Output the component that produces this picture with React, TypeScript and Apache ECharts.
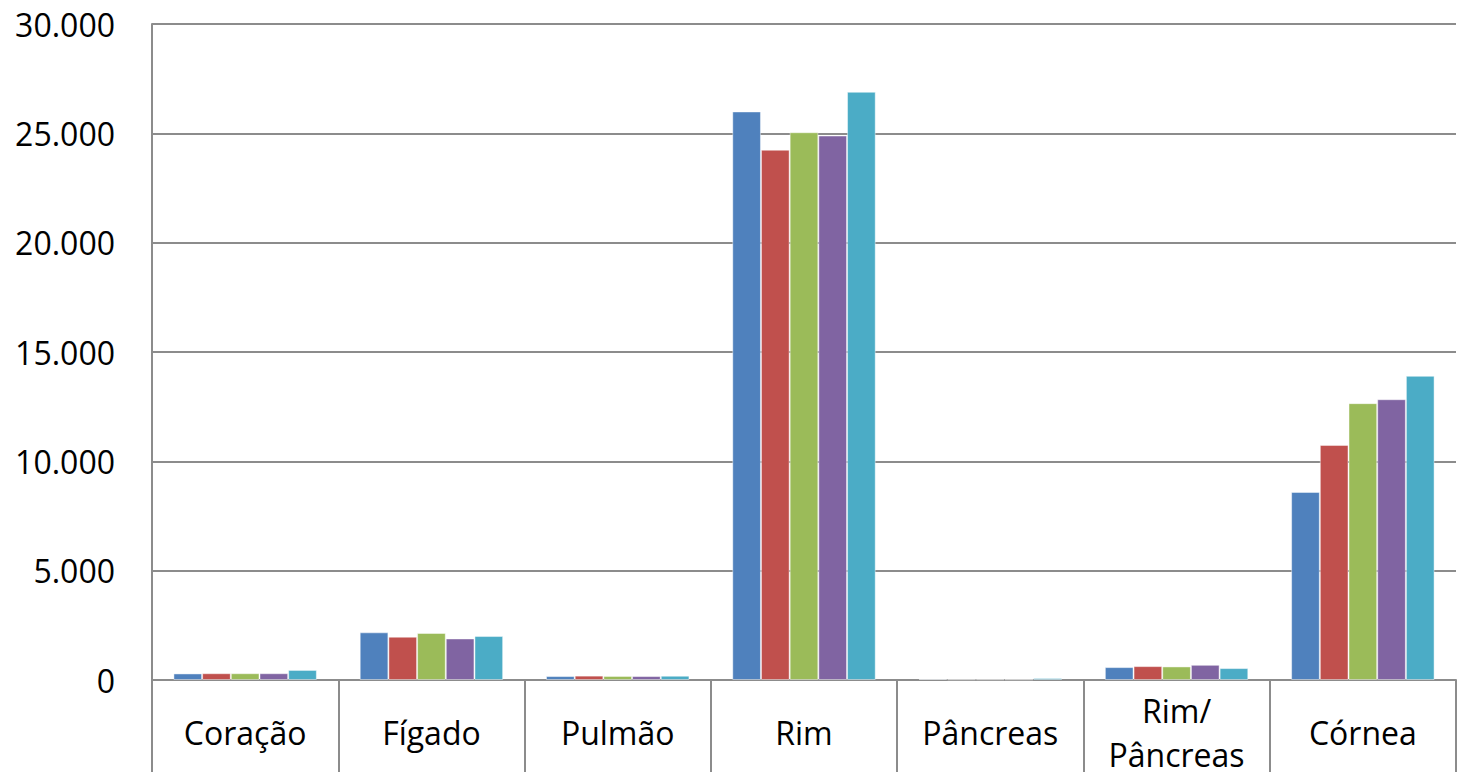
import React, { useEffect, useRef } from "react";
import * as echarts from "echarts";

// Organ categories along the x axis
const categories = [
  "Coração",
  "Fígado",
  "Pulmão",
  "Rim",
  "Pâncreas",
  "Rim/\nPâncreas",
  "Córnea",
];

// One array per series, one value per organ
const serie1 = [300, 2180, 180, 26000, 50, 590, 8600];
const serie2 = [310, 1980, 200, 24250, 30, 635, 10750];
const serie3 = [310, 2150, 185, 25050, 30, 620, 12660];
const serie4 = [310, 1900, 180, 24900, 30, 695, 12840];
const serie5 = [460, 2010, 195, 26900, 90, 545, 13910];

const seriesNames = ["Série 1", "Série 2", "Série 3", "Série 4", "Série 5"];
const seriesValues = [serie1, serie2, serie3, serie4, serie5];
const colors = ["#4F81BD", "#C0504D", "#9BBB59", "#8064A2", "#4BACC6"];

// Y axis range and step
const yMin = 0;
const yMax = 30000;
const yStep = 5000;

const formatThousands = (v: number) =>
  String(Math.round(v)).replace(/\B(?=(\d{3})+(?!\d))/g, ".");

const FONT = "'Open Sans', 'Noto Sans', sans-serif";
const GRID_GRAY = "#8c8c8c";

export default function App() {
  const ref = useRef<HTMLDivElement>(null);

  useEffect(() => {
    if (!ref.current) return;
    const chart = echarts.init(ref.current, undefined, { renderer: "svg" });
    chart.setOption({
      animation: false,
      backgroundColor: "#ffffff",
      color: colors,
      grid: { left: 152, right: 3, top: 24, bottom: 90, containLabel: false },
      xAxis: {
        type: "category",
        data: categories,
        boundaryGap: true,
        axisLine: { show: true, lineStyle: { color: GRID_GRAY, width: 2 } },
        axisTick: {
          show: true,
          interval: 0,
          length: 92,
          lineStyle: { color: GRID_GRAY, width: 2 },
        },
        axisLabel: {
          interval: 0,
          margin: 52,
          verticalAlign: "middle",
          color: "#000000",
          fontFamily: FONT,
          fontSize: 32,
          lineHeight: 44,
        },
      },
      yAxis: {
        type: "value",
        min: yMin,
        max: yMax,
        interval: yStep,
        axisLine: { show: true, lineStyle: { color: GRID_GRAY, width: 2 } },
        axisTick: { show: false },
        splitLine: { show: true, lineStyle: { color: GRID_GRAY, width: 2 } },
        axisLabel: {
          margin: 37,
          color: "#000000",
          fontFamily: FONT,
          fontSize: 32,
          formatter: (v: number) => formatThousands(v),
        },
      },
      series: seriesValues.map((vals, i) => ({
        name: seriesNames[i],
        type: "bar",
        data: vals,
        barGap: "0%",
        barCategoryGap: "23%",
        itemStyle: {
          color: colors[i],
          borderColor: "rgba(255,255,255,0.45)",
          borderWidth: 1,
        },
      })),
    });
    return () => chart.dispose();
  }, []);

  return (
    <div
      ref={ref}
      style={{
        position: "fixed",
        left: 0,
        top: 0,
        width: 1459,
        height: 776,
        background: "#ffffff",
      }}
    />
  );
}
